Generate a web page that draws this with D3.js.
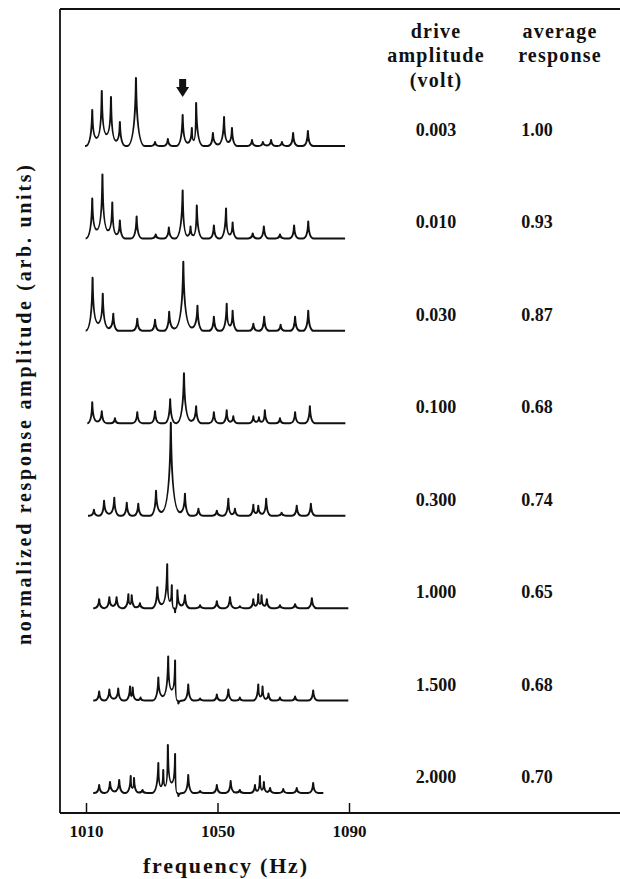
<!DOCTYPE html>
<html>
<head>
<meta charset="utf-8">
<script src="https://cdn.jsdelivr.net/npm/d3@7"></script>
<style>
  body { margin: 0; background: #fff; }
  svg { display: block; }
  text { font-family: "Liberation Serif", "DejaVu Serif", serif; font-weight: bold; fill: #111; }
</style>
</head>
<body>
<svg id="chart" width="620" height="879"></svg>
<script>
// drive amplitude (volt) and average response for each trace, top to bottom
const driveLabels = ["0.003", "0.010", "0.030", "0.100", "0.300", "1.000", "1.500", "2.000"];
const avgResponse = ["1.00", "0.93", "0.87", "0.68", "0.74", "0.65", "0.68", "0.70"];

// frequency span of each trace (Hz)
const spanStart = [1009.7, 1009.9, 1009.9, 1010.4, 1010.6, 1012.2, 1012.2, 1012.2];
const spanEnd = [1088.8, 1088.8, 1088.8, 1088.9, 1088.9, 1089.8, 1089.8, 1082.2];

// peaks: [frequency Hz, height arb.]
const peaks1 = [[1011.9, 36], [1014.8, 55], [1017.6, 49], [1020.3, 24], [1025.2, 68], [1031.0, 4], [1034.9, 7],
  [1039.4, 31], [1042.2, 18], [1043.5, 43], [1048.6, 13], [1052.0, 29], [1054.4, 18], [1060.5, 6], [1063.8, 4],
  [1066.3, 6], [1069.6, 4], [1073.0, 13], [1077.5, 15]];
const peaks2 = [[1011.9, 40], [1015.0, 64], [1018.0, 36], [1020.3, 18], [1025.4, 22], [1031.2, 4], [1035.2, 11],
  [1039.4, 48], [1041.8, 12], [1043.7, 33], [1048.9, 13], [1052.6, 30], [1054.6, 16], [1060.7, 5], [1064.1, 12],
  [1069.0, 4], [1073.3, 13], [1077.6, 17]];
const peaks3 = [[1012.0, 53], [1015.1, 37], [1018.3, 17], [1025.6, 12], [1031.0, 11], [1035.3, 19], [1039.6, 69],
  [1043.9, 25], [1048.9, 14], [1052.8, 27], [1054.6, 20], [1060.9, 7], [1064.2, 14], [1069.2, 6], [1073.6, 14],
  [1077.6, 20]];
const peaks4 = [[1011.9, 21], [1014.8, 12], [1018.8, 5], [1025.6, 11], [1031.0, 12], [1035.6, 24], [1039.8, 50],
  [1043.5, 17], [1048.9, 11], [1052.8, 13], [1054.8, 7], [1060.9, 7], [1062.6, 6], [1064.4, 13], [1069.0, 5],
  [1073.6, 11], [1078.1, 17]];
const peaks5 = [[1012.4, 6], [1015.5, 15], [1018.6, 18], [1022.4, 13], [1025.9, 12], [1031.3, 25], [1035.8, 93],
  [1040.1, 22], [1044.2, 7], [1049.8, 5], [1053.3, 17], [1055.3, 7], [1060.9, 11], [1062.4, 10], [1064.8, 17],
  [1069.5, 3], [1074.1, 10], [1078.4, 12]];
const peaks6 = [[1014.0, 9], [1017.1, 11], [1019.3, 11], [1022.9, 14], [1023.9, 13], [1026.4, 5], [1031.7, 21],
  [1034.7, 44], [1036.1, 23], [1037.1, -4], [1037.8, 18], [1040.1, 13], [1044.7, 3], [1049.8, 7], [1053.8, 11],
  [1056.8, 2], [1060.9, 9], [1062.4, 14], [1063.4, 13], [1065.0, 9], [1069.0, 3], [1073.6, 4], [1078.7, 10]];
const peaks7 = [[1014.0, 9], [1017.1, 11], [1019.8, 12], [1023.4, 14], [1024.2, 13], [1026.6, 3], [1032.0, 23],
  [1035.0, 44], [1037.1, 40], [1038.1, -3], [1041.1, 16], [1044.7, 2], [1049.8, 6], [1053.3, 11], [1056.8, 3],
  [1062.4, 16], [1063.7, 14], [1065.5, 7], [1069.0, 3], [1073.6, 4], [1079.1, 10]];
const peaks8 = [[1014.0, 8], [1017.3, 11], [1020.1, 13], [1023.6, 17], [1024.6, 15], [1027.2, 3], [1032.0, 30],
  [1033.5, 23], [1034.9, 48], [1037.1, 39], [1038.1, -3], [1041.1, 18], [1044.7, 2], [1049.8, 8], [1054.0, 12],
  [1056.8, 3], [1061.4, 8], [1062.9, 17], [1064.1, 11], [1066.0, 5], [1070.0, 4], [1074.1, 5], [1079.1, 10]];
const allPeaks = [peaks1, peaks2, peaks3, peaks4, peaks5, peaks6, peaks7, peaks8];

// mode marked by the arrow on the top trace (Hz)
const markedFreq = 1039.4;
const freqTicks = [1010, 1050, 1090];

const svg = d3.select("#chart");

const frameLeft = 60, frameRight = 620, frameTop = 9, axisY = 813;

const x = d3.scaleLinear().domain([1010, 1090]).range([86, 349]);
const rowY = d3.scalePoint().domain(d3.range(driveLabels.length)).range([146, 793]);
const amp = d3.scaleLinear().domain([0, 100]).range([0, 100]);

// frame: top and left lines, bottom axis
svg.append("line").attr("x1", frameLeft).attr("x2", frameRight).attr("y1", frameTop).attr("y2", frameTop)
  .attr("stroke", "#111").attr("stroke-width", 1.8);
svg.append("line").attr("x1", frameLeft).attr("x2", frameLeft).attr("y1", frameTop).attr("y2", axisY)
  .attr("stroke", "#111").attr("stroke-width", 1.8);
svg.append("line").attr("x1", frameLeft).attr("x2", frameRight).attr("y1", axisY).attr("y2", axisY)
  .attr("stroke", "#111").attr("stroke-width", 1.8);

const xAxis = svg.append("g")
  .attr("transform", `translate(0, ${axisY})`)
  .call(d3.axisBottom(x).tickValues(freqTicks).tickFormat(d3.format("d")).tickSize(-10).tickPadding(12));
xAxis.select(".domain").remove();
xAxis.selectAll(".tick line").attr("stroke", "#111").attr("stroke-width", 1.5);
xAxis.selectAll(".tick text")
  .attr("font-family", "Liberation Serif, serif")
  .attr("font-weight", "bold")
  .attr("font-size", 17)
  .attr("fill", "#111");

// spectrum trace built from its peaks
function tracePath(i) {
  const base = rowY(i);
  const Y = v => base - amp(v);
  const pk = allPeaks[i].slice().sort((a, b) => a[0] - b[0]);
  const halfW = h => 1.3 + 0.02 * Math.abs(h);
  const feet = pk.map(() => ({}));
  pk.forEach((p, j) => {
    if (j === 0) feet[j].lf = [Math.max(spanStart[i], p[0] - halfW(p[1])), 0];
    if (j === pk.length - 1) { feet[j].rf = [Math.min(spanEnd[i], p[0] + halfW(p[1])), 0]; return; }
    const q = pk[j + 1];
    const w1 = halfW(p[1]), w2 = halfW(q[1]);
    const gap = q[0] - p[0];
    if (gap >= w1 + w2) {
      feet[j].rf = [p[0] + w1, 0];
      feet[j + 1].lf = [q[0] - w2, 0];
    } else {
      const fv = p[0] + gap * w1 / (w1 + w2);
      const lv = (p[1] > 0 && q[1] > 0) ? 0.3 * Math.min(p[1], q[1]) * (1 - gap / (w1 + w2)) + 0.12 * Math.min(p[1], q[1]) : 0;
      feet[j].rf = [fv, lv];
      feet[j + 1].lf = [fv, lv];
    }
  });
  const path = d3.path();
  path.moveTo(x(spanStart[i]), base);
  pk.forEach((p, j) => {
    const lf = feet[j].lf, rf = feet[j].rf;
    path.lineTo(x(lf[0]), Y(lf[1]));
    path.quadraticCurveTo(x(p[0] - 0.1 * (p[0] - lf[0])), Y(lf[1]), x(p[0]), Y(p[1]));
    path.quadraticCurveTo(x(p[0] + 0.1 * (rf[0] - p[0])), Y(rf[1]), x(rf[0]), Y(rf[1]));
  });
  path.lineTo(x(spanEnd[i]), base);
  return path.toString();
}

svg.append("g")
  .selectAll("path")
  .data(d3.range(allPeaks.length))
  .join("path")
  .attr("d", tracePath)
  .attr("fill", "none")
  .attr("stroke", "#111")
  .attr("stroke-width", 2)
  .attr("stroke-linejoin", "round");

// arrow over the marked mode
const ax = x(markedFreq);
svg.append("rect").attr("x", ax - 3.5).attr("y", 79).attr("width", 7).attr("height", 9).attr("fill", "#111");
svg.append("path")
  .attr("d", `M${ax - 6.5},87 L${ax + 6.5},87 L${ax},97 Z`)
  .attr("fill", "#111");

// right-hand columns
const colDrive = 436, colAvg = 537;
const header = svg.append("g").attr("font-size", 20).attr("letter-spacing", 1.2).attr("text-anchor", "middle");
header.append("text").attr("x", colDrive).attr("y", 38).text("drive");
header.append("text").attr("x", colDrive).attr("y", 62).text("amplitude");
header.append("text").attr("x", colDrive).attr("y", 87).text("(volt)");
header.append("text").attr("x", 560).attr("y", 38).text("average");
header.append("text").attr("x", 560).attr("y", 62).text("response");

svg.append("g")
  .selectAll("text")
  .data(driveLabels)
  .join("text")
  .attr("x", colDrive)
  .attr("y", (d, i) => rowY(i) - 10)
  .attr("text-anchor", "middle")
  .attr("font-size", 18)
  .text(d => d);

svg.append("g")
  .selectAll("text")
  .data(avgResponse)
  .join("text")
  .attr("x", colAvg)
  .attr("y", (d, i) => rowY(i) - 10)
  .attr("text-anchor", "middle")
  .attr("font-size", 18)
  .text(d => d);

// axis titles
svg.append("text")
  .attr("x", 225)
  .attr("y", 873)
  .attr("text-anchor", "middle")
  .attr("font-size", 22)
  .attr("textLength", 164)
  .attr("lengthAdjust", "spacing")
  .text("frequency (Hz)");

svg.append("text")
  .attr("transform", "translate(31, 405) rotate(-90)")
  .attr("text-anchor", "middle")
  .attr("font-size", 20)
  .attr("textLength", 480)
  .attr("lengthAdjust", "spacing")
  .text("normalized response amplitude (arb. units)");
</script>
</body>
</html>
